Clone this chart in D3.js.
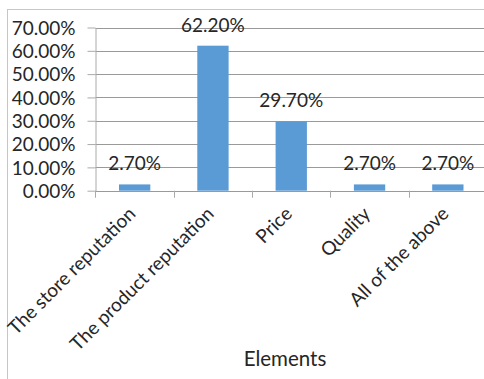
<!DOCTYPE html>
<html>
<head>
<meta charset="utf-8">
<script src="https://cdn.jsdelivr.net/npm/d3@7"></script>
<style>
  body { margin: 0; background: #fff; }
  svg text { font-family: Lato, "Open Sans", sans-serif; fill: #262626; }
</style>
</head>
<body>
<svg id="chart" width="484" height="379"></svg>
<script>
// Share of respondents by the element that matters most when buying
const categories = ["The store reputation", "The product reputation", "Price", "Quality", "All of the above"];
const shares = [0.027, 0.622, 0.297, 0.027, 0.027];
const yTickValues = [0, 0.1, 0.2, 0.3, 0.4, 0.5, 0.6, 0.7];
const xAxisTitle = "Elements";

const svg = d3.select("#chart");

const plot = { left: 95.5, right: 487, top: 27.5, bottom: 190.7 };

const x = d3.scaleBand()
  .domain(categories)
  .range([plot.left, plot.right])
  .paddingInner(0.6)
  .paddingOuter(0.3);

const y = d3.scaleLinear()
  .domain([0, 0.7])
  .range([plot.bottom, plot.top]);

const pct = d3.format(".2%");

// chart-area frame
svg.append("rect")
  .attr("x", 7.5).attr("y", 9.5)
  .attr("width", 500).attr("height", 400)
  .attr("fill", "none")
  .attr("stroke", "#c6c6c6")
  .attr("stroke-width", 1);

// horizontal gridlines
svg.append("g")
  .selectAll("line")
  .data(yTickValues)
  .join("line")
  .attr("x1", plot.left).attr("x2", plot.right)
  .attr("y1", d => Math.round(y(d)) + 0.5)
  .attr("y2", d => Math.round(y(d)) + 0.5)
  .attr("stroke", "#9a9a9a")
  .attr("stroke-width", 1);

// value axis
const yAxis = svg.append("g")
  .attr("transform", `translate(${plot.left},0)`)
  .call(d3.axisLeft(y).tickValues(yTickValues).tickFormat(pct).tickSize(8).tickSizeOuter(0).tickPadding(12));
yAxis.select(".domain").attr("stroke", "#aaaaaa");
yAxis.selectAll(".tick line").attr("stroke", "#aaaaaa");
yAxis.selectAll(".tick text")
  .style("font-size", "19px")
  .attr("dy", "0.36em");

// category boundary ticks under the baseline
const boundaries = categories.map(c => x(c) - x.step() * x.paddingInner() / 2)
  .concat([x(categories[categories.length - 1]) + x.bandwidth() + x.step() * x.paddingInner() / 2]);
svg.append("g")
  .selectAll("line")
  .data(boundaries)
  .join("line")
  .attr("x1", d => Math.round(d) + 0.5).attr("x2", d => Math.round(d) + 0.5)
  .attr("y1", plot.bottom).attr("y2", plot.bottom + 7)
  .attr("stroke", "#aaaaaa");

// bars
svg.append("g")
  .selectAll("rect")
  .data(shares)
  .join("rect")
  .attr("x", (d, i) => x(categories[i]))
  .attr("y", d => y(d))
  .attr("width", x.bandwidth())
  .attr("height", d => y(0) - y(d))
  .attr("fill", "#5b9bd5");

// value labels
svg.append("g")
  .selectAll("text")
  .data(shares)
  .join("text")
  .attr("x", (d, i) => x(categories[i]) + x.bandwidth() / 2)
  .attr("y", d => y(d) - 14)
  .attr("text-anchor", "middle")
  .style("font-size", "19px")
  .text(d => pct(d));

// rotated category labels
svg.append("g")
  .selectAll("text")
  .data(categories)
  .join("text")
  .attr("text-anchor", "end")
  .attr("transform", d => `translate(${x(d) + x.bandwidth() / 2 + 2},215) rotate(-45)`)
  .style("font-size", "19px")
  .text(d => d);

// axis title
svg.append("text")
  .attr("x", 285)
  .attr("y", 366)
  .attr("text-anchor", "middle")
  .style("font-size", "20.5px")
  .text(xAxisTitle);
</script>
</body>
</html>
